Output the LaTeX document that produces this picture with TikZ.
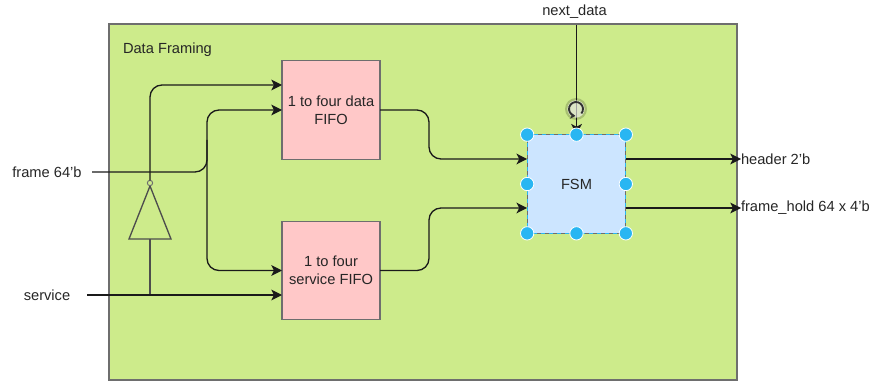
\documentclass[tikz,border=0pt]{standalone}
\usepackage{fontspec}
\setmainfont{Liberation Sans}
\usetikzlibrary{arrows.meta}
\definecolor{groupfill}{HTML}{CDEB8B}
\definecolor{fifofill}{HTML}{FFC8C8}
\definecolor{fsmfill}{HTML}{CCE5FF}
\definecolor{handleblue}{HTML}{29B6F2}
\definecolor{edgegray}{HTML}{6E6E6E}
\definecolor{wirecol}{HTML}{1A1A1A}
\tikzset{
  wire/.style={draw=wirecol, line width=1pt, rounded corners=9pt, -{Stealth[length=8pt,width=8pt,inset=2pt]}},
  gatewire/.style={draw=edgegray!70!black, line width=1pt},
  labelnode/.style={inner sep=0pt, outer sep=0pt, text=black!85},
  fifobox/.style={draw=edgegray, fill=fifofill, line width=0.9pt, minimum width=73.5pt, minimum height=74pt, inner sep=0pt, outer sep=0pt, align=center, text=black!85},
  handle/.style={circle, fill=handleblue, draw=white, line width=0.6pt, minimum size=10pt, inner sep=0pt}
}
\begin{document}
\begin{tikzpicture}[x=0.75pt, y=-0.75pt, font=\fontsize{11}{13.5}\selectfont]
  \useasboundingbox (0,0) rectangle (871,381);
  \node[draw=edgegray, fill=groupfill, line width=1pt, minimum width=471pt, minimum height=267pt, inner sep=0pt, outer sep=0pt, anchor=north west] (group) at (109,24) {};
  \node[labelnode, anchor=west] (title) at (123,49.5) {Data Framing};

  \node[fifobox] (fifoa) at (331,110) {1 to four data\\FIFO};
  \node[fifobox] (fifob) at (331,270.5) {1 to four\\service FIFO};
  \node[draw=edgegray, fill=fsmfill, line width=0.9pt, minimum width=74pt, minimum height=74pt, inner sep=0pt, outer sep=0pt, text=black!85] (fsm) at (576.5,184) {FSM};

  \node[labelnode, minimum width=67.5pt, minimum height=14pt] (framein) at (47,172) {frame 64'b};
  \node[labelnode, minimum width=60pt, minimum height=14pt] (servicein) at (47,295) {service};
  \node[labelnode, minimum height=19.5pt] (nextin) at (574.5,12) {next\_data};
  \node[labelnode, anchor=west, xshift=3pt] (headerout) at (737,159) {header 2'b};
  \node[labelnode, anchor=west, xshift=3pt] (holdout) at (737,208) {frame\_hold 64 x 4'b};

  \coordinate (split) at (207,140);
  \coordinate (fifoaup) at (fifoa.west |- 0,85);
  \coordinate (fifobsvc) at (fifob.west |- servicein);
  \coordinate (fsmina) at (fsm.west |- 0,159);
  \coordinate (fsminb) at (fsm.west |- 0,208);
  \coordinate (fsmouta) at (fsm.east |- headerout);
  \coordinate (fsmoutb) at (fsm.east |- holdout);
  \coordinate (midouta) at (429,135);
  \coordinate (midoutb) at (429,240);
  \coordinate (invtip) at (150,186);
  \coordinate (invleft) at (129,239);
  \coordinate (invright) at (171,239);
  \coordinate (invin) at (150,239);
  \coordinate (tapsvc) at (150,295);

  % inverter
  \draw[gatewire, line join=miter] (invtip) -- (invleft) -- (invright) -- cycle;
  \node[circle, draw=edgegray, fill=groupfill, line width=0.7pt, minimum size=4pt, inner sep=0pt, outer sep=0pt] (invout) at (150,183) {};
  \draw[gatewire] (tapsvc) -- (invin);

  \draw[wire] (invout.north) |- (fifoaup);
  \draw[wire] (framein.east) -| (split) |- (fifoa.west);
  \draw[wire] (split) |- (fifob.west);
  \draw[wire] (servicein.east) -- (fifobsvc);
  \draw[wire] (fifoa.east) -| (midouta) |- (fsmina);
  \draw[wire] (fifob.east) -| (midoutb) |- (fsminb);
  \draw[wire] (fsmouta) -- (headerout.west);
  \draw[wire] (fsmoutb) -- (holdout.west);
  \draw[wire] (nextin.south -| fsm.north) -- (fsm.north);

  % selection
  \draw[handleblue, line width=0.8pt, dashed, dash pattern=on 3pt off 3pt] (fsm.north west) rectangle (fsm.south east);
  \foreach \a/\n in {north west/hnw, north/hn, north east/hne, west/hw, east/he, south west/hsw, south/hs, south east/hse}
    \node[handle] (\n) at (fsm.\a) {};

  % rotate icon
  \node[circle, fill=black, opacity=0.18, minimum size=16.5pt, inner sep=0pt] (rothalo) at (576,109) {};
  \node[circle, fill=white, opacity=0.6, minimum size=13pt, inner sep=0pt] (rotdisc) at (576,109) {};
  \draw[black!80, line width=1.4pt, -{Stealth[length=4pt,width=5pt]}] (rothalo.center) ++(40:7) arc[start angle=40, end angle=-265, radius=7];
\end{tikzpicture}
\end{document}
